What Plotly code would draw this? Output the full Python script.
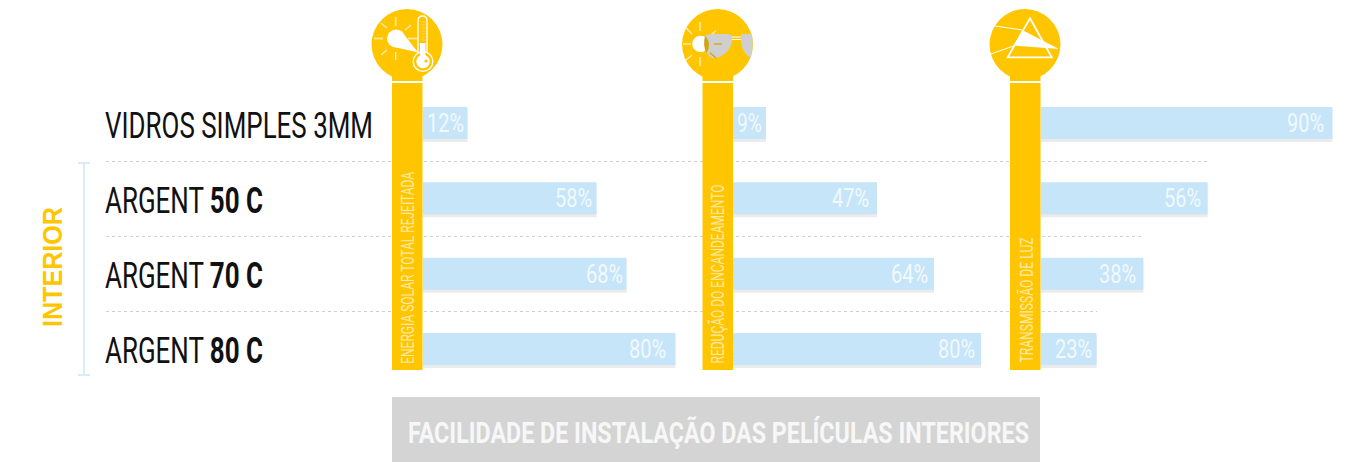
import json
import plotly.graph_objects as go

W, H = 1349, 462
YELLOW = "#ffc600"
PALE = "#ffe9a6"
BLUE = "#c6e5f9"
COND = "Roboto"

rows = ["VIDROS SIMPLES 3MM", "ARGENT <b>50 C</b>", "ARGENT <b>70 C</b>", "ARGENT <b>80 C</b>"]
panel_titles = ["ENERGIA SOLAR TOTAL REJEITADA", "REDUÇÃO DO ENCANDEAMENTO", "TRANSMISSÃO DE LUZ"]
labels_1 = [12, 58, 68, 80]
labels_2 = [9, 47, 64, 80]
labels_3 = [90, 56, 38, 23]
# drawn lengths (the original is not strictly to scale)
lengths_1 = [15.0, 58.0, 68.0, 84.3]
lengths_2 = [11.0, 48.0, 67.0, 82.7]
lengths_3 = [97.3, 55.7, 34.3, 18.7]
group_label = "INTERIOR"
footer = "FACILIDADE DE INSTALAÇÃO DAS PELÍCULAS INTERIORES"

# distance in pixels between the end of a bar and the end of its label
label_inset = [[3.5, 5, 4, 9], [4, 8, 6, 6], [8, 7, 7, 5]]

px = lambda x: x / W
py = lambda y: 1 - y / H
fig = go.Figure()
ann = []

ROW_PX = 75.33
bar_w = 32 / ROW_PX
UNIT = 3.0  # pixels per axis unit
for i, (lab, val, start) in enumerate(zip([labels_1, labels_2, labels_3],
                                          [lengths_1, lengths_2, lengths_3], [422.5, 733, 1040.5])):
    ax = "" if i == 0 else str(i + 1)
    fig.add_trace(go.Bar(y=rows, x=val, orientation="h", xaxis="x" + ax, yaxis="y",
                         width=bar_w, offset=-bar_w / 2 + 3 / ROW_PX,
                         marker=dict(color="rgba(60,60,60,0.10)", line_width=0), hoverinfo="skip", showlegend=False))
    fig.add_trace(go.Bar(y=rows, x=val, orientation="h", xaxis="x" + ax, yaxis="y",
                         width=bar_w, offset=-bar_w / 2,
                         marker=dict(color=BLUE, line_width=0), showlegend=False))
    fig.update_layout({"xaxis" + ax: dict(domain=[px(start), px(start + 300)], range=[0, 100], visible=False,
                                          anchor="y", fixedrange=True)})
    for r, l, v, inset in zip(rows, lab, val, label_inset[i]):
        half = 12.5 if l < 10 else 18.5
        ann.append(dict(x=v - (inset + half) / UNIT, y=r, xref="x" + ax, yref="y", text=f"{l}%", showarrow=False,
                        xanchor="center", yanchor="middle", width=2 * half,
                        font=dict(family=COND, size=26, color="#f2f9fe")))

fig.update_layout(
    width=W, height=H, margin=dict(l=0, r=0, t=0, b=0), paper_bgcolor="white", plot_bgcolor="rgba(0,0,0,0)",
    barmode="overlay", showlegend=False,
    yaxis=dict(domain=[0, 1], range=[(H - 123) / ROW_PX, -123 / ROW_PX], type="category", visible=False, fixedrange=True),
)

shapes = []
def rect(x0, y0, x1, y1, c, layer="above"):
    shapes.append(dict(type="rect", xref="paper", yref="paper", x0=px(x0), x1=px(x1), y0=py(y0), y1=py(y1),
                       fillcolor=c, line_width=0, layer=layer))
def circ(cx, cy, r, fill, line=None, lw=0):
    shapes.append(dict(type="circle", xref="paper", yref="paper", x0=px(cx - r), x1=px(cx + r), y0=py(cy - r), y1=py(cy + r),
                       fillcolor=fill, line=dict(color=line or fill, width=lw), layer="above"))
def seg(x0, y0, x1, y1, c=PALE, w=1.6, layer="above", dash=None):
    shapes.append(dict(type="line", xref="paper", yref="paper", x0=px(x0), x1=px(x1), y0=py(y0), y1=py(y1),
                       line=dict(color=c, width=w, dash=dash), layer=layer))
def path(cmds, fill=None, line=None, lw=0):
    out = []
    for c in cmds:
        if isinstance(c, str):
            out.append(c)
        else:
            out.append(f"{px(c[0]):.6f},{py(c[1]):.6f}")
    d = dict(type="path", xref="paper", yref="paper", path=" ".join(out), layer="above")
    d["fillcolor"] = fill or "rgba(0,0,0,0)"
    d["line"] = dict(color=line or "rgba(0,0,0,0)", width=lw)
    shapes.append(d)

# separators and bracket
for y, x1 in [(161.5, 1208), (236.5, 1144), (311.5, 1097)]:
    seg(106, y, x1, y, "#cfcfcf", 1, "below", "dot")
seg(84, 163, 84, 375, "#d8ecf9", 2)
seg(78, 163, 90, 163, "#d8ecf9", 2)
seg(78, 375, 90, 375, "#d8ecf9", 2)

# footer
rect(392, 397, 1040, 462, "#d4d4d4")

# columns + heads
for x0, x1, cx in [(392, 422.5, 407), (702.5, 733, 717.5), (1010, 1040.5, 1025)]:
    circ(cx, 44.5, 35.5, YELLOW)
    rect(x0, 70, x1, 81, YELLOW)
    rect(x0, 83, x1, 370, YELLOW)

# icon 1: sun and thermometer
for a in [(395.7, 17, 395.7, 26), (405, 30, 411, 25), (374, 38.5, 383, 38.5),
          (381, 55, 387, 50), (395.7, 52, 395.7, 60), (408, 46, 414, 50), (408, 38.5, 417, 38.5), (381, 23, 387, 28)]:
    seg(*a)
circ(396, 38.5, 9, "white")
path(["M", (401, 30.5), "L", (418, 52.5), "L", (392, 46.5), "Z"], "white")
path(["M", (418, 53), "L", (418, 21), "Q", (418, 16), (422.5, 16), "Q", (427, 16), (427, 21), "L", (427, 53)], YELLOW, "white", 1.3)
for y in range(22, 43, 3):
    seg(421.5, y, 425.5, y, "#ffdb66", 0.7)
circ(423, 61.5, 9.8, YELLOW, "white", 1.3)
rect(420, 43, 425.5, 58, "white")
circ(423, 61.5, 6.7, "white")
circ(426, 61, 1.6, YELLOW)

# icon 2: sun and glasses
for a in [(700, 22, 700, 31), (700, 57, 700, 66), (683, 44, 691, 44), (686, 28, 692, 34), (686, 60, 692, 55), (711, 35, 716, 30.5)]:
    seg(*a)
circ(700.5, 44, 8.3, "white")
seg(731, 37, 741.5, 37, "white", 1)
seg(731, 39.5, 741.5, 39.5, "white", 1)
GLASS = "#cfcfcf"
path(["M", (704, 40), "C", (704, 35), (708, 34), (712, 34), "L", (728, 34), "C", (733, 34), (733, 40), (731, 45),
      "C", (728, 53), (720, 58), (714, 58), "C", (708, 58), (704, 50), (704, 40), "Z"], GLASS)
path(["M", (741, 34), "L", (752, 34), "Q", (753.5, 46), (751, 58), "Q", (745, 55), (742, 47), "Q", (740, 40), (741, 34), "Z"], GLASS)
path(["M", (705.5, 36), "Q", (712, 44), (706.5, 53), "Q", (702.5, 46), (705.5, 36), "Z"], "#d8a400")
seg(714, 44, 722, 44, "#d8a400", 1.3)
seg(710, 52.7, 716, 58, "#d8a400", 1.3)

# icon 3: prism
path(["M", (1030, 18.3), "L", (1051.7, 57.3), "L", (1007.7, 57.3), "Z"], None, "white", 1.8)
path(["M", (1014.3, 45.7), "L", (1022.3, 30), "L", (1040, 39.3), "L", (1059, 49), "Z"], "white")
seg(993.3, 25.7, 1022.3, 30, "white", 1)
seg(990, 54.3, 1014.3, 45.7, "white", 1)
fig.update_layout(shapes=shapes)

def text(x, y, s, size, color, box, family=COND, angle=0, yref="paper", bold=False, yshift=0):
    ann.append(dict(x=px(x), y=y if yref != "paper" else py(y), xref="paper", yref=yref, text=f"<b>{s}</b>" if bold else s,
                    showarrow=False, xanchor="center", yanchor="middle", textangle=angle, yshift=yshift, width=box,
                    font=dict(family=family, size=size, color=color)))
for r, cx, box in zip(rows, [239, 184, 184, 184], [268, 158, 158, 158]):
    text(cx, r, r, 37, "#111111", box, yref="y", yshift=-2)
text(52, 267, group_label, 28, YELLOW, 120, family="Liberation Sans", angle=-90, bold=True)
text(718, 432, footer, 30, "#f7f7f7", 621, bold=True)
text(406.5, 268, panel_titles[0], 19, PALE, 192, angle=-90)
text(717, 274.5, panel_titles[1], 19, PALE, 179, angle=-90)
text(1026, 300.5, panel_titles[2], 19, PALE, 125, angle=-90)
fig.update_layout(annotations=ann)

# narrow the glyphs to the condensed width of the original lettering
fit = {
    "VIDROS SIMPLES 3MM": 268, "ARGENT 50 C": 158, "ARGENT 70 C": 158, "ARGENT 80 C": 158,
    group_label: 120, footer: 621, panel_titles[0]: 192, panel_titles[1]: 179, panel_titles[2]: 125,
}
for l in labels_1 + labels_2 + labels_3:
    fit[f"{l}%"] = 25 if l < 10 else 37
post = """
document.body.style.margin='0';
var fit=%s;
document.querySelectorAll('svg text').forEach(function(t){
  var L=fit[t.textContent];
  if(L){t.setAttribute('textLength',L);t.setAttribute('lengthAdjust','spacingAndGlyphs');}
});
""" % json.dumps(fit)
fig.write_html("out.html", post_script=post, config={"displayModeBar": False})
